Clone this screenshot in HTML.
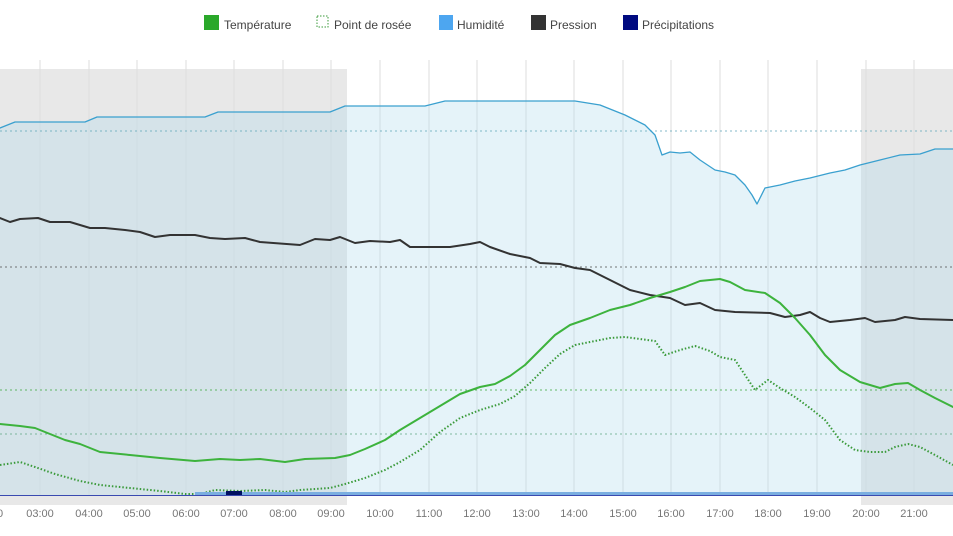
<!DOCTYPE html><html><head><style>body{margin:0;background:#fff}svg{display:block;font-family:"Liberation Sans",sans-serif}</style></head><body>
<svg width="953" height="536" viewBox="0 0 953 536">
<rect x="0" y="69" width="347" height="436" fill="#e8e8e8"/>
<rect x="861" y="69" width="92" height="436" fill="#e8e8e8"/>
<g stroke="#dedede" stroke-width="1">
<line x1="40" y1="60" x2="40" y2="495"/><line x1="89" y1="60" x2="89" y2="495"/><line x1="137" y1="60" x2="137" y2="495"/><line x1="186" y1="60" x2="186" y2="495"/><line x1="234" y1="60" x2="234" y2="495"/><line x1="283" y1="60" x2="283" y2="495"/><line x1="331" y1="60" x2="331" y2="495"/><line x1="380" y1="60" x2="380" y2="495"/><line x1="429" y1="60" x2="429" y2="495"/><line x1="477" y1="60" x2="477" y2="495"/><line x1="526" y1="60" x2="526" y2="495"/><line x1="574" y1="60" x2="574" y2="495"/><line x1="623" y1="60" x2="623" y2="495"/><line x1="671" y1="60" x2="671" y2="495"/><line x1="720" y1="60" x2="720" y2="495"/><line x1="768" y1="60" x2="768" y2="495"/><line x1="817" y1="60" x2="817" y2="495"/><line x1="866" y1="60" x2="866" y2="495"/><line x1="914" y1="60" x2="914" y2="495"/>
</g>
<polygon fill="rgba(170,215,235,0.3)" stroke="none" points="0,495 0,128 15,122 85,122 97,117 205,117 218,112 330,112 345,106 425,106 445,101 575,101 600,105 625,115 645,125 655,135 662,155 670,152 680,153 690,152 700,160 715,170 725,172 735,175 745,185 752,195 757,204 765,188 780,185 795,181 810,178 830,173 845,170 860,165 880,160 900,155 920,154 935,149 953,149 953,495"/>
<g stroke-width="1" stroke-dasharray="2,3" opacity="0.8">
<line x1="0" y1="131" x2="953" y2="131" stroke="#6ab"/>
<line x1="0" y1="267" x2="953" y2="267" stroke="#555"/>
<line x1="0" y1="390" x2="953" y2="390" stroke="#4a4"/>
<line x1="0" y1="434" x2="953" y2="434" stroke="#6a8"/>
</g>
<g fill="none" stroke-linejoin="round" stroke-linecap="round">
<polyline stroke="#3aa0cf" stroke-width="1.3" points="0,128 15,122 85,122 97,117 205,117 218,112 330,112 345,106 425,106 445,101 575,101 600,105 625,115 645,125 655,135 662,155 670,152 680,153 690,152 700,160 715,170 725,172 735,175 745,185 752,195 757,204 765,188 780,185 795,181 810,178 830,173 845,170 860,165 880,160 900,155 920,154 935,149 953,149"/>
<polyline stroke="#333" stroke-width="2" points="0,218 10,222 20,219 38,218 50,222 70,222 90,228 105,228 125,230 140,232 155,237 170,235 195,235 210,238 225,239 245,238 260,242 300,245 315,239 330,240 340,237 355,243 370,241 390,242 400,240 410,247 450,247 470,244 480,242 490,247 510,254 530,258 540,263 560,264 575,268 590,270 610,280 630,290 650,295 670,298 685,305 700,303 715,310 735,312 770,313 785,317 800,315 810,312 820,318 830,322 850,320 865,318 875,322 895,320 905,317 920,319 953,320"/>
<polyline stroke="#3db33d" stroke-width="2" points="0,424 20,426 35,428 50,434 65,440 80,444 100,452 130,455 160,458 195,461 220,459 240,460 260,459 285,462 305,459 335,458 350,455 365,449 385,440 400,430 420,418 440,406 460,394 480,387 495,384 510,376 525,365 540,350 555,335 570,325 590,318 610,310 630,305 650,298 670,292 685,287 700,281 720,279 730,282 745,290 765,293 780,303 795,318 810,335 825,355 840,370 860,382 880,388 895,384 908,383 920,390 935,398 953,407"/>
<polyline stroke="#3a9a3a" stroke-width="2" stroke-dasharray="1.5,2" stroke-linecap="butt" points="0,465 20,462 35,467 55,474 80,481 100,485 130,488 160,491 185,494 200,494 215,490 240,491 265,490 285,492 300,490 330,488 345,484 365,478 385,470 400,462 420,450 440,432 460,418 480,410 500,404 515,396 530,383 545,368 560,354 575,345 590,342 610,338 625,337 640,339 655,341 665,355 680,350 695,346 710,351 720,357 735,360 745,375 755,390 768,380 780,388 795,397 810,408 825,420 840,440 855,450 870,452 885,452 895,447 908,444 920,447 935,455 953,465"/>
</g>
<rect x="195" y="492" width="758" height="3" fill="#7aaee0"/>
<rect x="226" y="491" width="16" height="4" fill="#001060"/>
<line x1="0" y1="495.5" x2="953" y2="495.5" stroke="#3a4ab0" stroke-width="1"/>
<g font-size="11" fill="#777" text-anchor="middle">
<text x="0" y="517">0</text><text x="40" y="517">03:00</text><text x="89" y="517">04:00</text><text x="137" y="517">05:00</text><text x="186" y="517">06:00</text><text x="234" y="517">07:00</text><text x="283" y="517">08:00</text><text x="331" y="517">09:00</text><text x="380" y="517">10:00</text><text x="429" y="517">11:00</text><text x="477" y="517">12:00</text><text x="526" y="517">13:00</text><text x="574" y="517">14:00</text><text x="623" y="517">15:00</text><text x="671" y="517">16:00</text><text x="720" y="517">17:00</text><text x="768" y="517">18:00</text><text x="817" y="517">19:00</text><text x="866" y="517">20:00</text><text x="914" y="517">21:00</text><text x="956" y="517">2</text>
</g>
<g font-size="12" fill="#444">
<rect x="204" y="15" width="15" height="15" fill="#2aa82a"/><text x="224" y="29">Température</text>
<rect x="317" y="16" width="11" height="11" fill="none" stroke="#3a9a3a" stroke-dasharray="1.5,1.5"/><text x="334" y="29">Point de rosée</text>
<rect x="439" y="15" width="14" height="15" fill="#4da6f0"/><text x="457" y="29">Humidité</text>
<rect x="531" y="15" width="15" height="15" fill="#333"/><text x="550" y="29">Pression</text>
<rect x="623" y="15" width="15" height="15" fill="#000a80"/><text x="642" y="29">Précipitations</text>
</g>
</svg></body></html>
